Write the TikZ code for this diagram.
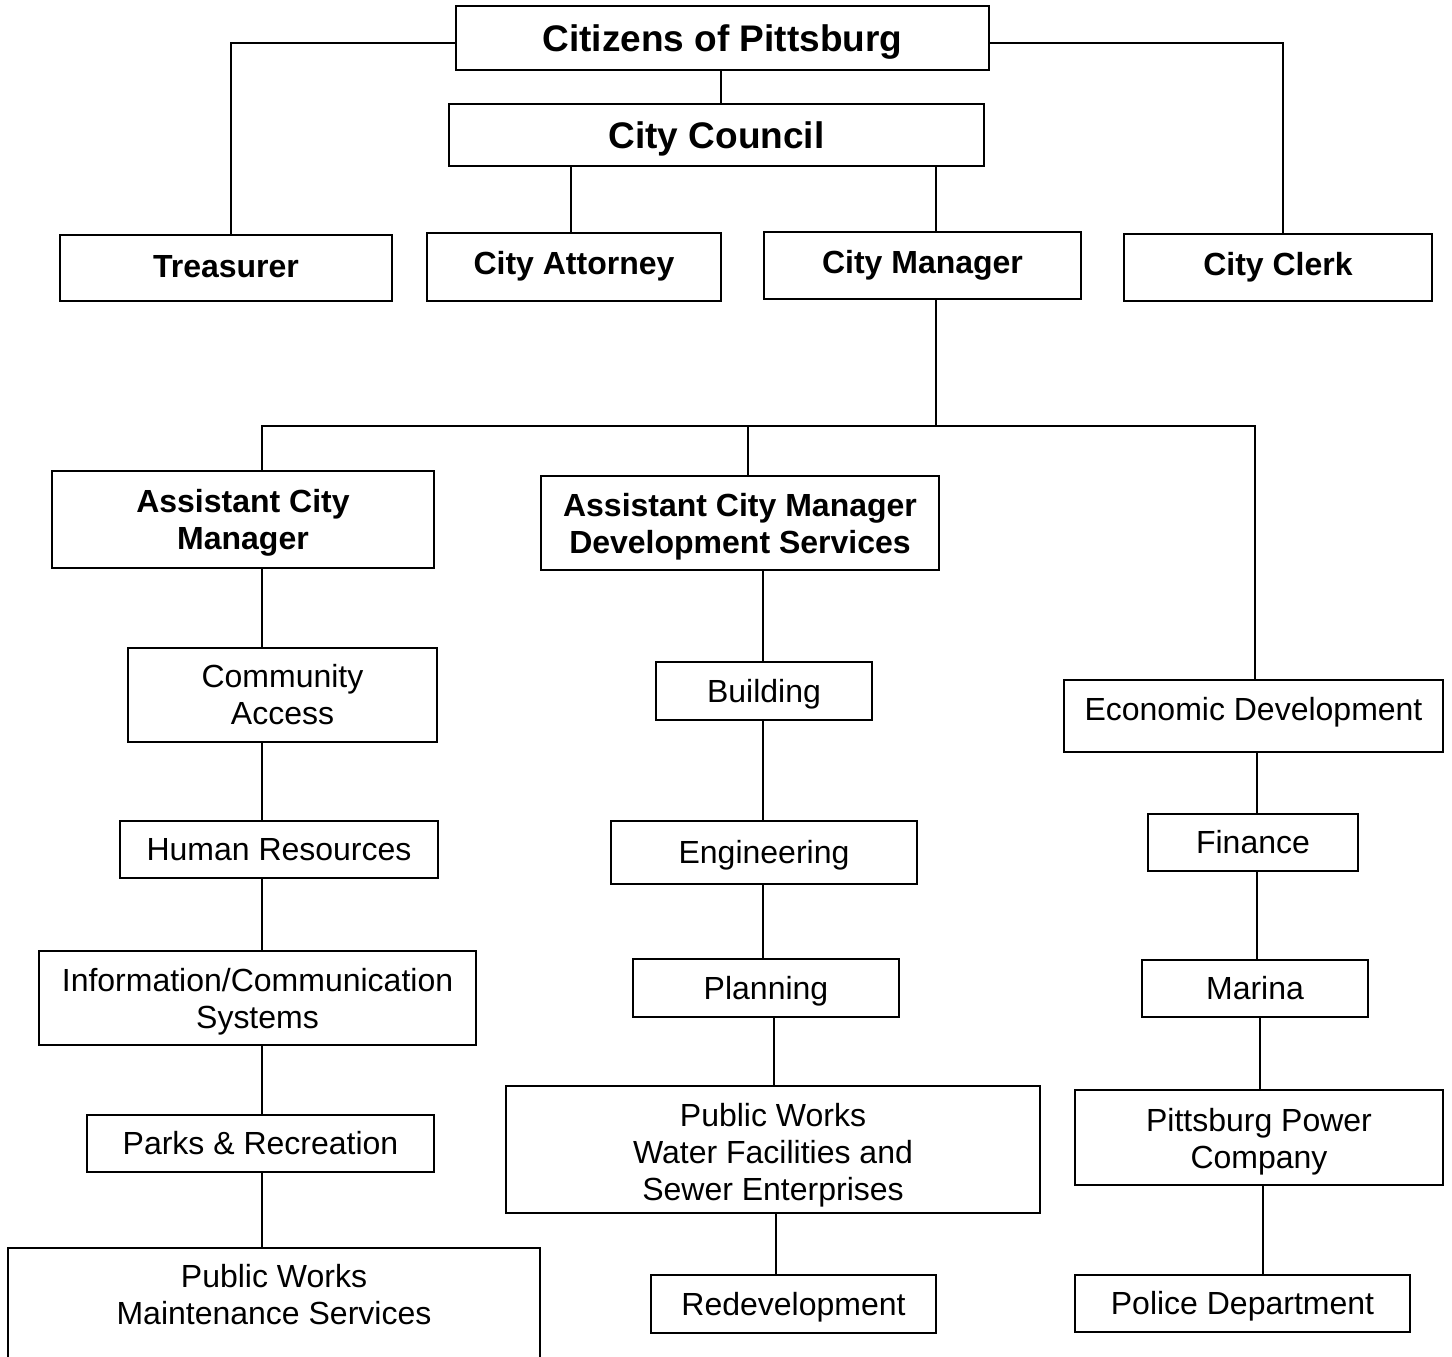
\documentclass[tikz,border=0pt]{standalone}
\usepackage{fontspec}
\setmainfont{Liberation Sans}
\begin{document}
\begin{tikzpicture}[x=1pt,y=-1pt,
  base/.style={draw, line width=1.8pt, inner sep=0pt, align=center},
  reg/.style={base, font=\fontsize{32}{37}\selectfont},
  regone/.style={reg, text height=22.9pt, text depth=0pt},
  bld/.style={base, font=\bfseries\fontsize{32}{37}\selectfont},
  bldone/.style={bld, text height=22.9pt, text depth=0pt},
  big/.style={base, font=\bfseries\fontsize{37}{42}\selectfont, text height=26.5pt, text depth=0pt},
  txt/.style={inner sep=0pt, align=center, font=\fontsize{32}{37}\selectfont},
  conn/.style={line width=1.8pt}]
\useasboundingbox (0,0) rectangle (1452,1357);
\fill[white] (0,0) rectangle (1452,1357);
\clip (0,0) rectangle (1452,1357);
% column coordinates
\coordinate (ytop) at (0,43);
\coordinate (bus) at (0,426);
\coordinate (xT) at (231,0);
\coordinate (xK) at (1283,0);
\coordinate (xCi) at (721,0);
\coordinate (xAt) at (571,0);
\coordinate (xM) at (936,0);
\coordinate (xA) at (262,0);
\coordinate (xD) at (748,0);
\coordinate (xE) at (1255,0);
\coordinate (xB) at (763,0);
\coordinate (xP) at (774,0);
\coordinate (xR) at (776,0);
\coordinate (xF) at (1257,0);
\coordinate (xMa) at (1260,0);
\coordinate (xPo) at (1263,0);
% top levels
\node[big, minimum width=533pt, minimum height=64pt] (cit) at (722.5,38) {Citizens of Pittsburg};
\node[big, minimum width=535pt, minimum height=62pt] (cc) at (716.5,135) {City Council};
\node[bldone, minimum width=332pt, minimum height=66pt, text depth=4pt] (tre) at (226,268) {Treasurer};
\node[bldone, minimum width=294pt, minimum height=68pt, text depth=8pt] (att) at (574,267) {City Attorney};
\node[bldone, minimum width=317pt, minimum height=67pt, text depth=6pt] (cm) at (922.5,265.5) {City Manager};
\node[bldone, minimum width=308pt, minimum height=67pt, text depth=6pt] (clk) at (1278,267.5) {City Clerk};
% assistant managers
\node[bld, minimum width=382pt, minimum height=97pt] (acm) at (243,519.5) {\rule{0pt}{29pt}Assistant City\\Manager};
\node[bld, minimum width=398pt, minimum height=94pt] (acmd) at (740,523) {\rule{0pt}{31pt}Assistant City Manager\\Development Services};
% left column
\node[reg, minimum width=309pt, minimum height=94pt] (ca) at (282.5,695) {Community\\Access};
\node[regone, minimum width=318pt, minimum height=57pt] (hr) at (279,849.5) {Human Resources};
\node[reg, minimum width=437pt, minimum height=94pt] (ics) at (257.5,998) {\rule{0pt}{31pt}Information/Communication\\Systems};
\node[regone, minimum width=347pt, minimum height=57pt] (pr) at (260.5,1143.5) {Parks \& Recreation};
\node[base, minimum width=532pt, minimum height=200pt, anchor=north] (pwm) at (274,1247) {};
\node[txt] (pwmt) at (274,1294.5) {Public Works\\Maintenance Services};
% middle column
\node[regone, minimum width=216pt, minimum height=58pt] (bldg) at (764,691) {Building};
\node[regone, minimum width=306pt, minimum height=63pt] (eng) at (764,852.5) {Engineering};
\node[regone, minimum width=266pt, minimum height=58pt] (pln) at (766,988) {Planning};
\node[reg, minimum width=534pt, minimum height=127pt] (pww) at (773,1149.5) {\rule{0pt}{35pt}Public Works\\Water Facilities and\\Sewer Enterprises};
\node[regone, minimum width=285pt, minimum height=58pt] (red) at (793.5,1304) {Redevelopment};
% right column
\node[regone, minimum width=379pt, minimum height=72pt, text depth=14pt] (eco) at (1253.5,716) {Economic Development};
\node[regone, minimum width=210pt, minimum height=57pt] (fin) at (1253,842.5) {Finance};
\node[regone, minimum width=226pt, minimum height=57pt] (mar) at (1255,988.5) {Marina};
\node[reg, minimum width=368pt, minimum height=95pt] (ppc) at (1259,1137.5) {\rule{0pt}{31pt}Pittsburg Power\\Company};
\node[regone, minimum width=335pt, minimum height=57pt] (pol) at (1242.5,1303.5) {Police Department};
% connectors top
\draw[conn] (cit.west |- ytop) -- (xT |- ytop) -- (tre.north -| xT);
\draw[conn] (cit.east |- ytop) -- (xK |- ytop) -- (clk.north -| xK);
\draw[conn] (cit.south -| xCi) -- (cc.north -| xCi);
\draw[conn] (cc.south -| xAt) -- (att.north -| xAt);
\draw[conn] (cc.south -| xM) -- (cm.north -| xM);
% bus
\draw[conn] (cm.south -| xM) -- (xM |- bus);
\draw[conn] (acm.north -| xA) -- (xA |- bus) -- (xE |- bus) -- (eco.north -| xE);
\draw[conn] (xD |- bus) -- (acmd.north -| xD);
% left column
\draw[conn] (acm.south -| xA) -- (ca.north -| xA);
\draw[conn] (ca.south -| xA) -- (hr.north -| xA);
\draw[conn] (hr.south -| xA) -- (ics.north -| xA);
\draw[conn] (ics.south -| xA) -- (pr.north -| xA);
\draw[conn] (pr.south -| xA) -- (pwm.north -| xA);
% middle column
\draw[conn] (acmd.south -| xB) -- (bldg.north -| xB);
\draw[conn] (bldg.south -| xB) -- (eng.north -| xB);
\draw[conn] (eng.south -| xB) -- (pln.north -| xB);
\draw[conn] (pln.south -| xP) -- (pww.north -| xP);
\draw[conn] (pww.south -| xR) -- (red.north -| xR);
% right column
\draw[conn] (eco.south -| xF) -- (fin.north -| xF);
\draw[conn] (fin.south -| xF) -- (mar.north -| xF);
\draw[conn] (mar.south -| xMa) -- (ppc.north -| xMa);
\draw[conn] (ppc.south -| xPo) -- (pol.north -| xPo);
\end{tikzpicture}
\end{document}
